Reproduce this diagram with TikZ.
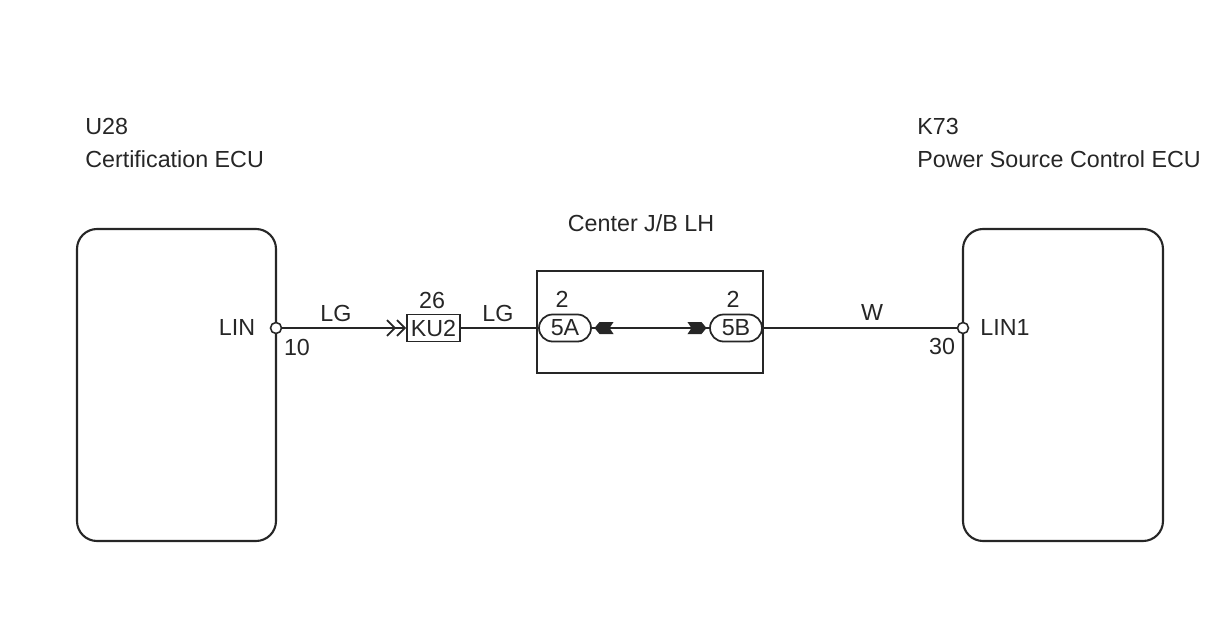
\documentclass[tikz,border=0pt]{standalone}
\usepackage{fontspec}
\setmainfont{Liberation Sans}
\usepackage{tikz}
\usetikzlibrary{positioning,shapes.misc,arrows.meta}
\definecolor{wire}{RGB}{38,38,38}
\tikzset{
  lbl/.style={font=\fontsize{13.25}{15}\selectfont, text=wire, inner sep=0},
  ecu/.style={draw=wire, line width=1.2pt, rounded corners=0.4cm},
  pin/.style={circle, draw=wire, fill=white, line width=0.9pt, minimum size=0.22cm, inner sep=0},
  conn/.style={lbl, draw=wire, line width=1pt, minimum width=1.06cm, minimum height=0.54cm},
  pill/.style={lbl, rounded rectangle, draw=wire, line width=1pt, minimum width=1.04cm, minimum height=0.54cm},
  jb/.style={draw=wire, line width=1.1pt, minimum width=4.52cm, minimum height=2.04cm, inner sep=0},
  wireline/.style={draw=wire, line width=1.1pt}
}
\begin{document}
\begin{tikzpicture}[x=0.02cm, y=-0.02cm]
      \useasboundingbox (0, 0) rectangle (1218, 636);
      % ECUs
      \draw [ecu] (77, 229) rectangle (276, 541);
      \draw [ecu] (963, 229) rectangle (1163, 541);
      \node [lbl, anchor=west] (u28) at (85, 126) {U28};
      \node [lbl, anchor=west] (certecu) at (85, 159) {Certification ECU};
      \node [lbl, anchor=west] (k73) at (917, 126) {K73};
      \node [lbl, anchor=west] (pwrecu) at (917, 159) {Power Source Control ECU};
      % junction block
      \node [jb] (jbox) at (650, 322) {};
      \node [lbl] (jbname) at (641, 223) {Center J/B LH};
      \node [pill] (p5a) at (565, 328) {5A};
      \node [pill] (p5b) at (736, 328) {5B};
      \node [lbl] (n5a) at (562, 299) {2};
      \node [lbl] (n5b) at (733, 299) {2};
      % connector KU2
      \node [conn] (ku2) at (433.5, 328) {KU2};
      \node [lbl] (n26) at (432, 300) {26};
      % wires
      \draw [wireline, -{Straight Barb[length=4.5pt,width=9pt,line width=1pt]Straight Barb[length=4.5pt,width=9pt,line width=1pt]}]
            (276, 328) -- (ku2.west);
      \draw [wireline] (ku2) -- (p5a)
                       (p5a) -- (p5b)
                       (p5b) -- (963, 328);
      \fill [wire] ([xshift=1.5pt]p5a.east) -- ++(5, -6) -- ++(14, 0) -- ++(-4, 6)
                   -- ++(4, 6) -- ++(-14, 0) -- cycle;
      \fill [wire] ([xshift=-1.5pt]p5b.west) -- ++(-5, -6) -- ++(-14, 0) -- ++(4, 6)
                   -- ++(-4, 6) -- ++(14, 0) -- cycle;
      % pins
      \node [pin] (linpin) at (276, 328) {};
      \node [pin] (lin1pin) at (963, 328) {};
      \node [lbl] (lin) at (237, 327) {LIN};
      \node [lbl] (n10) at (297, 347) {10};
      \node [lbl] (lin1) at (1005, 327) {LIN1};
      \node [lbl] (n30) at (942, 346) {30};
      % wire colours
      \node [lbl] (lg1) at (336, 313) {LG};
      \node [lbl] (lg2) at (498, 313) {LG};
      \node [lbl] (w) at (872, 312) {W};
\end{tikzpicture}
\end{document}
